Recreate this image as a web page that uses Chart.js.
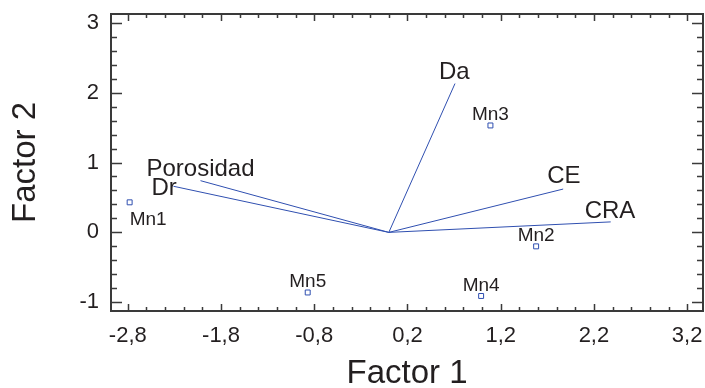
<!DOCTYPE html>
<html>
<head>
<meta charset="utf-8">
<script src="https://cdn.jsdelivr.net/npm/chart.js@4.4.0/dist/chart.umd.min.js"></script>
<style>
  html, body { margin: 0; padding: 0; background: #fff; overflow: hidden; }
  #wrap { width: 708px; height: 388px; }
</style>
</head>
<body>
<div id="wrap"><canvas id="biplot"></canvas></div>
<script>
// Variable vectors (loadings)
const vecNames = ["Porosidad", "Dr", "Da", "CE", "CRA"];
const vecX = [-2.02, -2.31, 0.71, 1.87, 2.38];
const vecY = [0.74, 0.66, 2.13, 0.62, 0.15];

// Sample scores
const obsNames = ["Mn1", "Mn2", "Mn3", "Mn4", "Mn5"];
const obsX = [-2.78, 1.58, 1.09, 0.99, -0.87];
const obsY = [0.43, -0.20, 1.53, -0.91, -0.86];

// Axis ticks
const xTicks = [-2.8, -1.8, -0.8, 0.2, 1.2, 2.2, 3.2];
const xTickLabels = ["-2,8", "-1,8", "-0,8", "0,2", "1,2", "2,2", "3,2"];
const yTicks = [-1, 0, 1, 2, 3];
const yTickLabels = ["-1", "0", "1", "2", "3"];

const BLUE = "#2f4fb0";
const INK = "#231f20";
const FONT = "'Liberation Sans', Arial, sans-serif";

// label placement relative to each mark (px)
const vecLabelOffset = {
    Porosidad: [-54, -5], Dr: [-22, 9], Da: [-16, -5], CE: [-16, -6], CRA: [-26, -4],
};
const obsLabelOffset = {
    Mn1: [0, 23, "left"], Mn2: [0, -5, "center"], Mn3: [0, -5, "center"],
    Mn4: [0, -5, "center"], Mn5: [0, -5, "center"],
};

const datasets = vecNames.map((name, i) => ({
    type: "line",
    label: name,
    data: [{ x: 0, y: 0 }, { x: vecX[i], y: vecY[i] }],
    borderColor: BLUE,
    borderWidth: 1,
    pointRadius: 0,
    fill: false,
}));
datasets.push({
    type: "scatter",
    label: "muestras",
    data: obsX.map((x, i) => ({ x: x, y: obsY[i] })),
    pointStyle: "rect",
    pointRadius: 3.5,
    pointBorderColor: BLUE,
    pointBackgroundColor: "#fff",
    pointBorderWidth: 1,
});

// frame with inward major/minor ticks on all four sides
const framePlugin = {
    id: "frame",
    afterDatasetsDraw(chart) {
        const { ctx, chartArea: a, scales } = chart;
        const xs = scales.x, ys = scales.y;
        ctx.save();
        ctx.strokeStyle = "#3a3a3a";
        ctx.lineWidth = 1.5;
        ctx.beginPath();
        for (let k = -16; k <= 16; k++) {
            const v = 0.2 + k * 0.2;
            if (v < xs.min || v > xs.max) continue;
            const px = Math.round(xs.getPixelForValue(v)) + 0.5;
            const len = k % 5 === 0 ? 7 : 4;
            ctx.moveTo(px, a.bottom); ctx.lineTo(px, a.bottom - len);
            ctx.moveTo(px, a.top); ctx.lineTo(px, a.top + len);
        }
        for (let k = -6; k <= 16; k++) {
            const v = k * 0.2;
            if (v < ys.min || v > ys.max) continue;
            const py = Math.round(ys.getPixelForValue(v)) + 0.5;
            const len = k % 5 === 0 ? 11 : 6;
            ctx.moveTo(a.left, py); ctx.lineTo(a.left + len, py);
            ctx.moveTo(a.right, py); ctx.lineTo(a.right - len, py);
        }
        ctx.stroke();
        ctx.lineWidth = 2;
        ctx.strokeRect(a.left, a.top, a.right - a.left, a.bottom - a.top);
        ctx.restore();
    },
};

// names next to vectors and samples
const labelPlugin = {
    id: "labels",
    afterDatasetsDraw(chart) {
        const { ctx, scales } = chart;
        ctx.save();
        ctx.fillStyle = INK;
        ctx.textBaseline = "alphabetic";
        ctx.font = "24px " + FONT;
        ctx.textAlign = "left";
        vecNames.forEach((name, i) => {
            const off = vecLabelOffset[name];
            const px = scales.x.getPixelForValue(vecX[i]);
            const py = scales.y.getPixelForValue(vecY[i]);
            ctx.fillText(name, px + off[0], py + off[1]);
        });
        ctx.font = "19px " + FONT;
        obsNames.forEach((name, i) => {
            const off = obsLabelOffset[name];
            const px = scales.x.getPixelForValue(obsX[i]);
            const py = scales.y.getPixelForValue(obsY[i]);
            ctx.textAlign = off[2];
            ctx.fillText(name, px + off[0], py + off[1]);
        });
        ctx.restore();
    },
};

new Chart(document.getElementById("biplot"), {
    data: { datasets: datasets },
    options: {
        responsive: true,
        maintainAspectRatio: false,
        animation: false,
        layout: { padding: { top: 14, right: 0, left: 0, bottom: 0 } },
        plugins: { legend: { display: false }, tooltip: { enabled: false } },
        scales: {
            x: {
                type: "linear",
                min: -2.98,
                max: 3.37,
                grid: { display: false, drawTicks: false },
                border: { display: false },
                afterBuildTicks: (s) => { s.ticks = xTicks.map(v => ({ value: v })); },
                afterFit: (s) => { s.height = 77; s.paddingLeft = 0; s.paddingRight = 0; },
                ticks: {
                    padding: 12,
                    color: INK,
                    font: { family: FONT, size: 22 },
                    maxRotation: 0,
                    callback: (v, i) => xTickLabels[i],
                },
                title: {
                    display: true,
                    text: "Factor 1",
                    color: INK,
                    font: { family: FONT, size: 33, lineHeight: 0.875 },
                    padding: 0,
                },
            },
            y: {
                type: "linear",
                min: -1.125,
                max: 3.125,
                grid: { display: false, drawTicks: false },
                border: { display: false },
                afterBuildTicks: (s) => { s.ticks = yTicks.map(v => ({ value: v })); },
                afterFit: (s) => { s.width = 111; s.paddingTop = 0; s.paddingBottom = 0; },
                ticks: {
                    padding: 12,
                    color: INK,
                    font: { family: FONT, size: 22 },
                    callback: (v, i) => yTickLabels[i],
                },
                title: {
                    display: true,
                    text: "Factor 2",
                    color: INK,
                    font: { family: FONT, size: 33, lineHeight: 0.875 },
                    padding: { top: 11, bottom: 0 },
                },
            },
        },
    },
    plugins: [framePlugin, labelPlugin],
});
</script>
</body>
</html>
